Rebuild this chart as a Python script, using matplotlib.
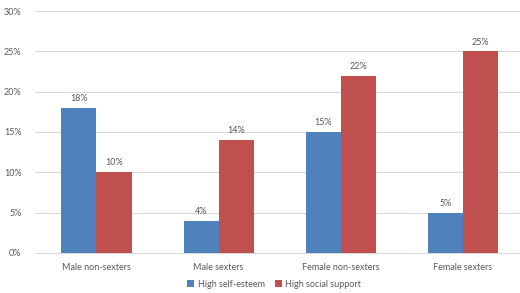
import matplotlib
matplotlib.use("Agg")
import matplotlib.pyplot as plt
import numpy as np
from matplotlib.ticker import FuncFormatter

categories = ["Male non-sexters", "Male sexters", "Female non-sexters", "Female sexters"]
self_esteem = [18, 4, 15, 5]
social_support = [10, 14, 22, 25]
series_names = ["High self-esteem", "High social support"]

plt.rcParams['font.family'] = ['Lato', 'DejaVu Sans']
txt = '#595959'

fig = plt.figure(figsize=(5.2, 2.93), dpi=100)
ax = fig.add_axes([0.068, 0.137, 0.94, 0.825])

x = np.arange(len(categories))
w = 0.287
b1 = ax.bar(x - w/2, self_esteem, w, color='#4F81BD', label=series_names[0], zorder=3)
b2 = ax.bar(x + w/2, social_support, w, color='#C0504D', label=series_names[1], zorder=3)
for bars, vals in ((b1, self_esteem), (b2, social_support)):
    for r, v in zip(bars, vals):
        ax.text(r.get_x() + r.get_width()/2, v + 0.6, f"{v}%", ha='center', va='bottom',
                fontsize=6.5, color=txt)

ax.set_ylim(0, 30)
ax.set_yticks(range(0, 31, 5))
ax.yaxis.set_major_formatter(FuncFormatter(lambda v, p: f"{int(v)}%"))
ax.set_xlim(-0.5, 3.5)
ax.set_xticks(x)
ax.set_xticklabels(categories)
ax.tick_params(axis='both', length=0, labelsize=6.5, colors=txt)
ax.tick_params(axis='x', pad=7)
ax.tick_params(axis='y', pad=10)
ax.grid(axis='y', color='#D9D9D9', linewidth=0.8, zorder=0)
for s in ['top', 'right', 'left']:
    ax.spines[s].set_visible(False)
ax.spines['bottom'].set_color('#D9D9D9')
ax.spines['bottom'].set_linewidth(0.8)

leg = ax.legend(loc='upper center', ncol=2, frameon=False,
          fontsize=6.5, labelcolor=txt, handlelength=0.8, handleheight=0.8,
          handletextpad=0.4, columnspacing=1.1)
leg.set_bbox_to_anchor((0.527, 0.072), transform=fig.transFigure)

fig.savefig("out.png", dpi=100)
